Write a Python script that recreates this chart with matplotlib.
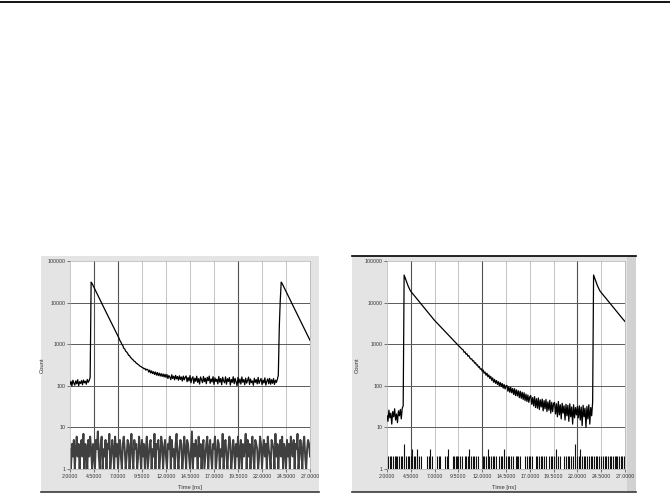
import numpy as np
import matplotlib.pyplot as plt
from matplotlib.lines import Line2D
from matplotlib.patches import Rectangle
from matplotlib.ticker import NullLocator

# time axis ticks (ns) and count ticks
x_ticks = [2.0, 4.5, 7.0, 9.5, 12.0, 14.5, 17.0, 19.5, 22.0, 24.5, 27.0]
y_ticks = [1, 10, 100, 1000, 10000, 100000]
y_tick_labels = ['1', '10', '100', '1000', '10000', '100000']

# cursor lines (dark verticals)
cursors_left = [4.5, 7.0, 19.5]
cursors_right = [4.5, 12.0, 22.0]

# ---- left decay, sampled every 0.1 ns from 2.0 to 27.0 ----
left_base = [108, 128, 99, 136, 116, 104, 131, 112, 140, 101, 125, 114, 133,
             106, 138, 118, 129, 109, 142, 121, 134]
left_rise = [160, 31000]
left_decay = [28800, 25800, 23200, 20800, 18700, 16700, 15000, 13500, 12100,
              10800, 9700, 8700, 7800, 7000, 6300, 5650, 5070, 4550, 4080,
              3660, 3280, 2950, 2640, 2370, 2130, 1910, 1710, 1540, 1400,
              1220, 1130, 990, 930, 800, 770, 680, 650]
left_tail = [610, 540, 535, 480, 462, 430, 415, 385, 378, 350, 340, 324, 312,
             296, 290, 276, 272, 256, 262, 238, 250,
             246, 214, 238, 203, 228, 197, 219, 188, 214, 181, 208, 176, 201,
             172, 196, 168, 192, 163, 189, 160,
             186, 150, 177, 162, 141, 184, 150, 170, 139, 178, 147, 167, 136,
             174, 142, 163, 130, 171, 139, 160,
             172, 125, 158, 131, 176, 118, 150, 165, 114, 152,
             128, 170, 121, 149, 110, 163, 140, 119, 168, 126,
             152, 112, 160, 133, 171, 115, 146, 124, 166, 108,
             155, 127, 144, 111, 168, 122, 150, 106, 161, 131,
             118, 164, 109, 148, 127, 158, 104, 142, 121, 165,
             112, 151, 124, 101, 160, 117, 145, 110, 163, 122,
             141, 106, 153, 116, 135, 162, 108, 146, 119, 131,
             103, 152, 121, 141, 111, 159, 114, 133, 150, 107,
             137, 117, 155, 104, 128, 147, 112, 151, 109, 140,
             115, 149, 108, 136, 121, 144]
left_rise2 = [180, 2500, 11000, 31000]
left_decay2 = [28800, 25800, 23200, 20800, 18700, 16700, 15000, 13500, 12100,
               10800, 9700, 8700, 7800, 7000, 6300, 5650, 5070, 4550, 4080,
               3660, 3280, 2950, 2640, 2370, 2130, 1910, 1710, 1540, 1380, 1240]

left_low = [3, 1, 4, 2, 5, 1, 3, 6, 2, 4, 1, 3, 5, 2, 7, 1, 4, 3, 1, 5, 2, 6, 3, 1, 4,
            2, 1, 5, 3, 8, 2, 1, 4, 6, 1, 3, 2, 5, 1, 4, 3, 7, 1, 2, 5, 3, 1, 6, 2, 4,
            1, 3, 5, 2, 1, 4, 6, 3, 1, 2, 5, 4, 1, 3, 7, 2, 1, 5, 3, 4, 1, 2, 6, 3, 1,
            5, 2, 4, 1, 3, 6, 1, 2, 4, 5, 1, 3, 2, 7, 1, 4, 3, 5, 1, 2, 6, 4, 1, 3, 5,
            2, 1, 4, 3, 6, 1, 5, 2, 3, 1, 4, 7, 2, 1, 3, 5, 4, 1, 2, 6, 3, 1, 5, 4, 2,
            1, 3, 8, 1, 4, 2, 5, 3, 1, 6, 2, 4, 1, 3, 5, 1, 2, 4, 6, 1, 3, 5, 2, 1, 4,
            3, 6, 1, 2, 5, 4, 1, 3, 2, 7, 1, 4, 5, 2, 1, 3, 6, 4, 1, 2, 5, 3, 1, 4, 2,
            6, 1, 3, 5, 1, 4, 2, 3, 7, 1, 5, 2, 4, 1, 3, 6, 2, 1, 5, 4, 3, 1, 2, 6, 4,
            1, 3, 5, 2, 4, 1, 6, 3, 2, 1, 5, 4, 3, 1, 7, 2, 4, 1, 3, 5, 2, 6, 1, 4, 3,
            1, 5, 2, 4, 1, 6, 3, 2, 5, 1, 4, 3, 7, 1, 2, 5, 3, 1, 4, 6, 2, 1, 3, 5, 4, 2]

# ---- right decay, sampled every 0.1 ns ----
right_base = [19, 14, 26, 17, 22, 12, 24, 18, 28, 15, 21, 13, 25, 19, 27, 16, 29, 33]
right_peak = [46000]
right_decay = [39800, 33900, 29500, 25700, 22900, 20400, 18600,
               17460, 16370, 15350, 14390, 13490, 12650, 11860, 11120, 10420,
               9770, 9160, 8590, 8050, 7550, 7080, 6640, 6220, 5830, 5470, 5130,
               4810, 4510, 4230, 3960, 3720,
               3520, 3330, 3150, 2980, 2820, 2670, 2520, 2390, 2260, 2140,
               2020, 1910, 1810, 1710, 1620, 1530, 1450, 1370, 1300, 1230,
               1160, 1100, 1040, 990, 930, 880, 840, 790, 750]
right_tail = [730, 640, 655, 575, 590, 515, 530, 470, 440, 445, 395, 400, 350,
              360, 315, 320, 280, 290, 250, 258, 225,
              240, 200, 215, 180, 200, 165, 182, 150, 168, 135, 155, 122, 142,
              115, 134, 108, 126, 100, 120, 96, 114, 88, 108, 84, 100,
              102, 74, 95, 70, 92, 68, 86, 62, 85, 58, 80, 57, 76, 52, 74, 50,
              70, 47, 68, 44, 63, 42, 60, 40, 55,
              58, 36, 52, 33, 55, 30, 49, 29, 51, 27, 46, 31, 48, 25, 44, 28,
              47, 24, 41, 26, 45, 22, 40, 24, 38,
              40, 21, 37, 18, 42, 20, 35, 16, 38, 22, 33, 15, 36, 19, 34, 14,
              37, 18, 31, 12, 35, 17, 30, 20, 32,
              17, 33, 15, 31, 11, 34, 18, 29, 10, 32, 16, 35, 12, 30, 19, 40]
right_peak2 = [46000]
right_decay2 = [39800, 33900, 29500, 25700, 22900, 20400, 18600,
                17460, 16370, 15350, 14390, 13490, 12650, 11860, 11120, 10420,
                9770, 9160, 8590, 8050, 7550, 7080, 6640, 6220, 5830, 5470, 5130,
                4810, 4510, 4230, 3960, 3720, 3520]

right_low = [1, 2, 1, 2, 2, 1, 2, 1, 2, 2, 1, 2, 1, 2, 1, 2, 2, 1, 4, 1, 2, 1, 2, 2, 1,
             2, 3, 1, 2, 2, 1, 3, 2, 1, 2, 1, 2, 1, 1, 1, 1, 1, 2, 1, 2, 3, 1, 2, 1, 1,
             1, 1, 1, 2, 1, 2, 2, 1, 1, 1, 1, 2, 1, 2, 3, 1, 1, 1, 1, 2, 2, 1, 2, 1, 2,
             2, 1, 2, 1, 2, 1, 1, 2, 2, 1, 2, 3, 1, 2, 1, 2, 2, 1, 2, 1, 1, 2, 1, 1, 1,
             1, 2, 2, 1, 2, 1, 3, 2, 1, 2, 1, 2, 2, 1, 2, 1, 1, 1, 2, 1, 2, 2, 1, 3, 1,
             2, 1, 2, 2, 1, 2, 1, 2, 1, 1, 2, 1, 2, 2, 1, 2, 1, 1, 1, 1, 2, 1, 2, 1, 2,
             2, 1, 2, 1, 1, 1, 1, 2, 2, 1, 2, 1, 2, 2, 1, 2, 1, 2, 1, 1, 2, 1, 2, 2, 1,
             2, 1, 2, 3, 1, 2, 1, 2, 1, 1, 1, 2, 1, 2, 1, 2, 2, 1, 2, 1, 2, 1, 1, 4, 1,
             2, 1, 2, 3, 1, 2, 1, 2, 2, 1, 2, 1, 2, 1, 2, 2, 1, 2, 1, 1, 2, 2, 1, 2, 1,
             2, 1, 2, 1, 2, 2, 1, 2, 1, 2, 2, 1, 2, 1, 2, 1, 2, 2, 1, 2, 1, 2, 2, 1, 2, 1]

left_main = np.concatenate([left_base, left_rise, left_decay, left_tail,
                            left_rise2, left_decay2])
right_main = np.concatenate([right_base, right_peak, right_decay, right_tail,
                             right_peak2, right_decay2])

plt.rcParams['font.family'] = ['Liberation Sans', 'DejaVu Sans']
fig = plt.figure(figsize=(6.7, 4.93), dpi=100)
W, H = 670.0, 493.0

# page rule at top
fig.add_artist(Line2D([0, 1], [1 - 2 / H, 1 - 2 / H], color='black', lw=1.3))

# gray window panels
for x0, x1 in [(41, 319), (352, 636)]:
    fig.add_artist(Rectangle((x0 / W, 1 / H), (x1 - x0) / W, 236 / H,
                             facecolor='#e4e4e4', edgecolor='none', zorder=0))
    fig.add_artist(Line2D([x0 / W, x1 / W], [1.5 / H, 1.5 / H], color='#3a3a3a', lw=1.2))
fig.add_artist(Rectangle((627 / W, 1 / H), 9 / W, 236 / H,
                         facecolor='#d2d2d2', edgecolor='none', zorder=0))
fig.add_artist(Line2D([352 / W, 636 / W], [1 - 256 / H, 1 - 256 / H], color='black', lw=1.2))


def draw_panel(ax, main, cursors):
    ax.set_facecolor('white')
    ax.set_yscale('log')
    ax.set_xlim(2, 27)
    ax.set_ylim(1, 100000)
    ax.set_xticks(x_ticks)
    ax.set_xticklabels([f'{v:.4f}' for v in x_ticks])
    ax.set_yticks(y_ticks)
    ax.set_yticklabels(y_tick_labels)
    ax.yaxis.set_minor_locator(NullLocator())
    ax.tick_params(labelsize=3.8, length=2, width=0.5, pad=1.5,
                   colors='#444444', labelcolor='#333333')
    for v in x_ticks[1:-1]:
        ax.axvline(v, color='#c4c4c4', lw=0.7, zorder=1)
    for v in cursors:
        ax.axvline(v, color='#505050', lw=0.8, zorder=1)
    for v in y_ticks[1:-1]:
        ax.axhline(v, color='#5a5a5a', lw=0.7, zorder=1)
    for s in ax.spines.values():
        s.set_color('#b0b0b0')
        s.set_linewidth(0.5)
    t_main = np.linspace(2, 27, len(main))
    ax.plot(t_main, main, color='black', lw=0.9, zorder=3)
    ax.set_xlabel('Time [ns]', fontsize=4.2, color='#333333')
    ax.set_ylabel('Count', fontsize=4.2, color='#333333')


ax1 = fig.add_axes([70 / W, 1 - 469 / H, 240 / W, 208 / H])
draw_panel(ax1, left_main, cursors_left)
t_low = np.linspace(2, 27, len(left_low))
ax1.plot(t_low, left_low, color='#404040', lw=1.4, zorder=2)
ax1.xaxis.set_label_coords(0.5, -0.075)
ax1.yaxis.set_label_coords(-0.105, 0.5)

ax2 = fig.add_axes([387 / W, 1 - 469 / H, 238 / W, 208 / H])
draw_panel(ax2, right_main, cursors_right)
t_low = np.linspace(2, 27, len(right_low))
ax2.vlines(t_low, 1, right_low, color='#111111', lw=0.8, zorder=2)
ax2.xaxis.set_label_coords(0.49, -0.075)
ax2.yaxis.set_label_coords(-0.113, 0.5)

fig.savefig('out.png', dpi=100)
